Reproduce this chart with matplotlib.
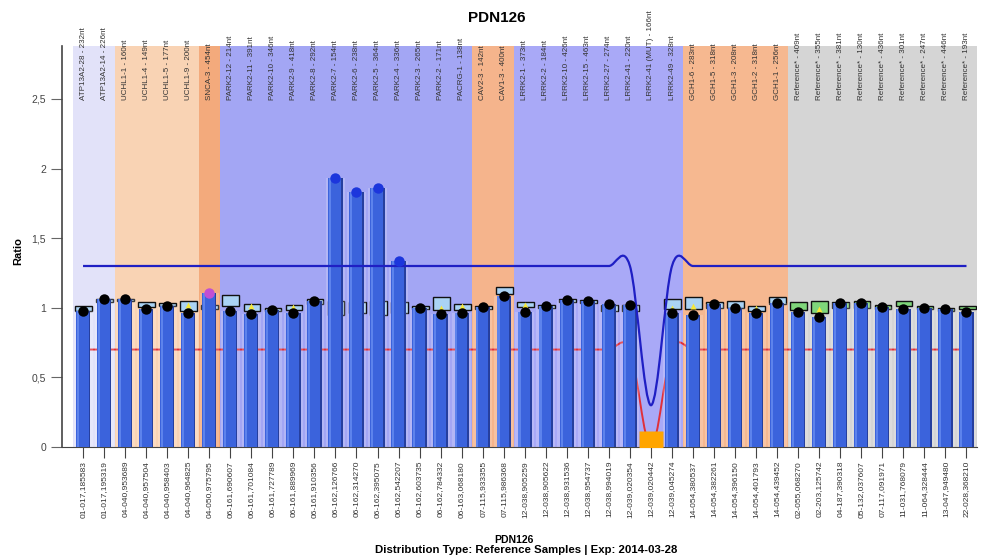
import matplotlib.pyplot as plt
from matplotlib import font_manager
from matplotlib.path import Path
from matplotlib.patches import PathPatch
from matplotlib.ticker import FuncFormatter

# probe names (top) and chromosome positions (bottom)
probes = ['ATP13A2-28 - 232nt', 'ATP13A2-14 - 226nt', 'UCHL1-1 - 160nt', 'UCHL1-4 - 149nt',
          'UCHL1-5 - 177nt', 'UCHL1-9 - 200nt', 'SNCA-3 - 454nt', 'PARK2-12 - 214nt',
          'PARK2-11 - 391nt', 'PARK2-10 - 346nt', 'PARK2-9 - 418nt', 'PARK2-8 - 292nt',
          'PARK2-7 - 154nt', 'PARK2-6 - 238nt', 'PARK2-5 - 364nt', 'PARK2-4 - 336nt',
          'PARK2-3 - 265nt', 'PARK2-2 - 171nt', 'PACRG-1 - 138nt', 'CAV2-3 - 142nt',
          'CAV1-3 - 400nt', 'LRRK2-1 - 373nt', 'LRRK2-2 - 184nt', 'LRRK2-10 - 426nt',
          'LRRK2-15 - 463nt', 'LRRK2-27 - 274nt', 'LRRK2-41 - 220nt', 'LRRK2-41 (MUT) - 166nt',
          'LRRK2-49 - 328nt', 'GCH1-6 - 283nt', 'GCH1-5 - 318nt', 'GCH1-3 - 208nt',
          'GCH1-2 - 318nt', 'GCH1-1 - 256nt', 'Reference* - 409nt', 'Reference* - 355nt',
          'Reference* - 381nt', 'Reference* - 130nt', 'Reference* - 436nt', 'Reference* - 301nt',
          'Reference* - 247nt', 'Reference* - 446nt', 'Reference* - 193nt']
positions = ['01-017,185583', '01-017,195319', '04-040,953689', '04-040,957504',
             '04-040,958403', '04-040,964825', '04-050,975795', '06-161,690607',
             '06-161,701084', '06-161,727789', '06-161,889969', '06-161,910356',
             '06-162,126766', '06-162,314270', '06-162,395075', '06-162,542207',
             '06-162,603735', '06-162,784332', '06-163,068180', '07-115,933355',
             '07-115,986368', '12-038,905259', '12-038,905622', '12-038,931536',
             '12-038,954737', '12-038,994019', '12-039,020354', '12-039,020442',
             '12-039,045274', '14-054,380537', '14-054,382261', '14-054,396150',
             '14-054,401793', '14-054,439452', '02-055,068270', '02-203,125742',
             '04-187,390318', '05-132,037607', '07-117,091971', '11-031,768079',
             '11-064,328444', '13-047,949480', '22-028,368210']

ratio = [0.975, 1.06, 1.06, 0.99, 1.015, 0.965, 1.105, 0.98, 0.955, 0.985, 0.965, 1.045,
         1.93, 1.835, 1.86, 1.335, 1.0, 0.953, 0.965, 1.008, 1.085, 0.97, 1.01, 1.055,
         1.047, 1.025, 1.02, 0.03, 0.965, 0.947, 1.025, 0.996, 0.96, 1.037, 0.972, 0.936,
         1.037, 1.037, 1.008, 0.991, 1.0, 0.989, 0.972]
status = ['ok'] * 6 + ['border'] + ['ok'] * 5 + ['high'] * 4 + ['ok'] * 11 + ['del'] + ['ok'] * 15

box_low = [0.98, 1.04, 1.045, 1.005, 1.01, 0.975, 0.99, 1.01, 0.975, 0.98, 0.985, 1.03,
           0.95, 0.96, 0.95, 0.96, 0.99, 0.985, 0.985, 0.99, 1.10, 1.005, 1.0, 1.04,
           1.035, 0.98, 0.98, None, 0.99, 0.99, 1.0, 1.0, 0.98, 1.03, 0.985, 0.96,
           1.0, 1.0, 0.99, 1.01, 0.99, 0.98, 0.99]
box_high = [1.01, 1.065, 1.065, 1.04, 1.035, 1.045, 1.02, 1.09, 1.03, 1.0, 1.02, 1.06,
            1.05, 1.04, 1.05, 1.04, 1.01, 1.08, 1.025, 1.015, 1.15, 1.04, 1.02, 1.06,
            1.055, 1.02, 1.02, None, 1.06, 1.08, 1.04, 1.045, 1.01, 1.08, 1.04, 1.05,
            1.04, 1.045, 1.02, 1.045, 1.01, 1.0, 1.01]
box_mid = {5: 1.02, 8: 1.01, 10: 1.005, 17: 1.0, 18: 1.01, 21: 1.02, 28: 1.0, 29: 1.01,
           32: 0.995, 35: 0.99}

upper_limit = [1.3] * 27 + [0.3] + [1.3] * 15
lower_limit = [0.7] * 27 + [0.0] + [0.7] * 15

band_genes = ['ATP13A2', 'UCHL1', 'SNCA', 'PARK2', 'CAV', 'LRRK2', 'GCH1', 'Reference']
band_sizes = [2, 4, 1, 12, 2, 8, 5, 9]

band_colors = {'ATP13A2': '#e2e2f9', 'UCHL1': '#f9d3b4', 'SNCA': '#f3aa7c',
               'PARK2': '#a3a6f4', 'CAV': '#f5b48c', 'LRRK2': '#a9a9f7',
               'GCH1': '#f6b890', 'Reference': '#d5d5d5'}
dot_colors = {'ok': '#000000', 'high': '#1c36dc', 'border': '#c24fd2'}

# the original labels use a narrow face; use one if it is installed
installed = {f.name for f in font_manager.fontManager.ttflist}
if 'Liberation Sans Narrow' in installed:
    label_font = dict(family='Liberation Sans Narrow')
    top_size, bottom_size = 6.9, 7.2
else:
    label_font = dict(family='Liberation Sans')
    top_size, bottom_size = 5.8, 6.0


def spline(xs, ys):
    # smooth curve through the points (cubic Bezier, Catmull-Rom tangents)
    n = len(xs)
    tang = []
    for i in range(n):
        a, b = max(i - 1, 0), min(i + 1, n - 1)
        tang.append((ys[b] - ys[a]) / (xs[b] - xs[a]))
    verts = [(xs[0], ys[0])]
    codes = [Path.MOVETO]
    for i in range(n - 1):
        d = (xs[i + 1] - xs[i]) / 3
        verts += [(xs[i] + d, ys[i] + tang[i] * d),
                  (xs[i + 1] - d, ys[i + 1] - tang[i + 1] * d),
                  (xs[i + 1], ys[i + 1])]
        codes += [Path.CURVE4] * 3
    return Path(verts, codes)


x = list(range(len(ratio)))

fig = plt.figure(figsize=(9.81, 5.56), dpi=100)
ax = fig.add_axes([62 / 981, 1 - 447 / 556, 915 / 981, 401 / 556])
ax.set_xlim(-1.0, len(ratio) - 0.5)
ax.set_ylim(0, 2.88)

start = 0
for gene, size in zip(band_genes, band_sizes):
    ax.axvspan(start - 0.5, start + size - 0.5, color=band_colors[gene], lw=0, zorder=0)
    start += size

# lower threshold (behind bars)
ax.add_patch(PathPatch(spline(x, lower_limit), fill=False, edgecolor='#e0303a', lw=1.4, zorder=1))

# reference boxes
for i in x:
    if box_low[i] is None:
        continue
    fc = '#7fd67a' if i >= 34 else '#aad3f4'
    ax.bar(i + 0.03, box_high[i] - box_low[i], bottom=box_low[i], width=0.8,
           facecolor=fc, edgecolor='#111111', lw=1.0, zorder=2)

# bars
ax.bar(x, ratio, width=0.9, color='white', alpha=0.18, lw=0, zorder=2.5)
ax.bar(x, ratio, width=0.68, color='#3b63dc', lw=0, zorder=3)
ax.bar([i - 0.25 for i in x], ratio, width=0.1, color='#5d83ec', lw=0, zorder=3.1)
ax.bar([i + 0.3 for i in x], ratio, width=0.08, color='#263f9e', lw=0, zorder=3.1)

# upper threshold
ax.add_patch(PathPatch(spline(x, upper_limit), fill=False, edgecolor='#1f1fc4', lw=1.6, zorder=3.5))

for i, m in box_mid.items():
    ax.plot(i, m, marker='^', color='#f5e83a', ms=5, mec='none', zorder=4)

for i in x:
    if status[i] == 'del':
        ax.plot(i, ratio[i], marker='s', color='#ffa500', ms=17, mec='none', zorder=5)
    else:
        ax.plot(i, ratio[i], marker='o', color=dot_colors[status[i]], ms=7.5, mec='none', zorder=5)

for i, p in enumerate(probes):
    ax.text(i, 2.49, p, rotation=90, ha='center', va='bottom', fontsize=top_size,
            color='#333333', clip_on=False, **label_font)

ax.set_xticks(x)
ax.set_xticklabels(positions, rotation=90, fontsize=bottom_size, color='#333333', **label_font)
ax.set_yticks([0, 0.5, 1, 1.5, 2, 2.5])
ax.yaxis.set_major_formatter(FuncFormatter(lambda v, _: f'{v:g}'.replace('.', ',')))
for lab in ax.get_yticklabels():
    lab.set_family('Liberation Sans')
ax.tick_params(axis='y', length=8, color='#666666', labelsize=7.5, labelcolor='#444444')
ax.tick_params(axis='x', length=8, color='#444444', pad=2)
for s in ['top', 'right']:
    ax.spines[s].set_visible(False)
ax.spines['left'].set_color('#444444')
ax.spines['bottom'].set_color('#444444')
ax.spines['left'].set_linewidth(1.2)

fig.text(18 / 981, 1 - 251 / 556, 'Ratio', rotation=90, ha='center', va='center',
         fontsize=8, fontweight='bold', family='Liberation Sans')
fig.text(497 / 981, 1 - 18 / 556, 'PDN126', ha='center', va='center',
         fontsize=11, fontweight='bold', family='Liberation Sans')
fig.text(514 / 981, 1 - 540 / 556, 'PDN126', ha='center', va='center',
         fontsize=7.5, fontweight='bold', family='Liberation Sans')
fig.text(526 / 981, 1 - 550 / 556, 'Distribution Type: Reference Samples | Exp: 2014-03-28',
         ha='center', va='center', fontsize=8.2, fontweight='bold', family='Liberation Sans')

fig.savefig('out.png', dpi=100)
